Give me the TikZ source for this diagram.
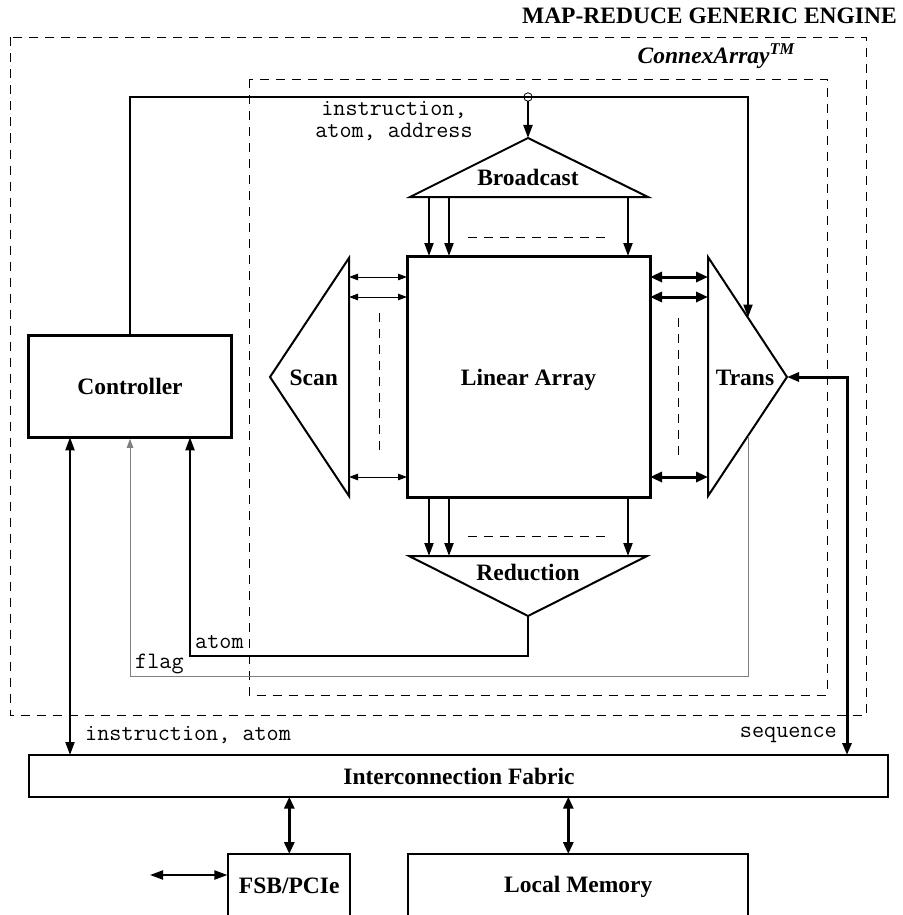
\documentclass[tikz,border=0pt]{standalone}
\usepackage{fontspec}
\setmainfont{Liberation Serif}
\usetikzlibrary{arrows.meta}
\begin{document}
\begin{tikzpicture}[x=1pt,y=-1pt,
  lbl/.style={font=\fontsize{23.5}{26}\selectfont\bfseries, inner sep=0pt},
  mono/.style={font=\fontsize{23.5}{26}\selectfont\ttfamily, inner sep=0pt},
  dsh/.style={line width=0.9pt, dash pattern=on 9pt off 7pt},
  box/.style={draw, inner sep=0pt, line width=1.8pt},
  tri/.style={line width=2pt, line join=miter},
  arr/.style={line width=2pt, -{Triangle[length=13pt,width=9pt]}},
  darr/.style={line width=2pt, {Triangle[length=13pt,width=9pt]}-{Triangle[length=13pt,width=9pt]}},
  thkarr/.style={line width=3pt, {Triangle[length=12pt,width=10pt]}-{Triangle[length=12pt,width=10pt]}},
  thinarr/.style={line width=0.9pt, {Triangle[length=9pt,width=6.5pt]}-{Triangle[length=9pt,width=6.5pt]}}
]
\path[use as bounding box, clip] (0,0) rectangle (902,915);

% dashed enclosures
\draw[dsh] (10,37.5) rectangle (866.7,715);
\draw[dsh] (249.3,79) rectangle (827,695);

% boxes
\node[box, line width=3pt, minimum width=203.4pt, minimum height=102.3pt] (ctrl) at (130,386.2) {};
\node[box, line width=3pt, minimum width=243pt, minimum height=241pt] (lin) at (528.5,376.5) {};
\node[box, minimum width=859.3pt, minimum height=41.7pt] (fab) at (458.7,775.8) {};
\node[box, minimum width=121.7pt, minimum height=76pt] (fsb) at (289.2,892) {};
\node[box, minimum width=340pt, minimum height=76pt] (mem) at (578.3,892) {};

% triangles
\coordinate (bA) at (528,138); \coordinate (bL) at (410,197); \coordinate (bR) at (648,197);
\coordinate (rA) at (528,616); \coordinate (rL) at (409,556); \coordinate (rR) at (647,556);
\coordinate (sA) at (270,377); \coordinate (sT) at (349,258); \coordinate (sB) at (349,496);
\coordinate (tA) at (787,377); \coordinate (tT) at (708,257); \coordinate (tB) at (708,496);
\draw[tri] (bL) -- (bA) -- (bR) -- cycle;
\draw[tri] (rL) -- (rA) -- (rR) -- cycle;
\draw[tri] (sT) -- (sA) -- (sB) -- cycle;
\draw[tri] (tT) -- (tA) -- (tB) -- cycle;

% broadcast -> linear array
\foreach \x in {429,449,628} \draw[arr] (\x,197) -- (\x,256);
\draw[dsh] (468,237) -- (610,237);
% linear array -> reduction
\foreach \x in {429,449,628} \draw[arr] (\x,497) -- (\x,556);
\draw[dsh] (468,536) -- (610,536);
% scan <-> linear array
\foreach \y in {277,297,477} \draw[thinarr] (349,\y) -- (407,\y);
\draw[dsh] (379,313) -- (379,453);
% linear array <-> trans
\foreach \y in {277,297,477} \draw[thkarr] (650,\y) -- (708,\y);
\draw[dsh] (678,318) -- (678,457);

% controller bus
\coordinate (busL) at (130,97);
\coordinate (busR) at (748,97);
\coordinate (tIn) at (748,317.5);
\coordinate (tap) at (528,97);
\draw[line width=2pt, -{Triangle[length=13pt,width=9pt]}] (ctrl.north) -- (busL) -- (busR) -- (tIn);
\draw[line width=0.8pt] (tap) circle (4.2pt);
\draw[arr] (528,101.2) -- (bA);

% flag (gray)
\coordinate (tOut) at (748,436);
\coordinate (f1) at (748,676);
\coordinate (f2) at (130,676);
\draw[line width=1pt, gray, -{Triangle[length=9pt,width=6.5pt]}] (tOut) -- (f1) -- (f2) -- (ctrl.south);
% atom from reduction
\coordinate (a1) at (528,656);
\coordinate (a2) at (190,656);
\draw[arr] (rA) -- (a1) -- (a2) -- (190,437.3);
% instruction, atom
\draw[darr] (70,437.3) -- (70,755);
% sequence
\coordinate (s1) at (847,377);
\draw[line width=3pt, {Triangle[length=12pt,width=9pt]}-{Triangle[length=12pt,width=9pt]}] (tA) -- (s1) -- (847,755);
% fabric <-> fsb, memory
\draw[thkarr] (289.3,796.7) -- (289.3,854);
\draw[thkarr] (568.3,796.7) -- (568.3,854);
\coordinate (ext) at (150,875);
\draw[darr] (ext) -- (fsb.west |- ext);

% texts
\node[lbl, anchor=base east] at (897,23.3) {MAP-REDUCE GENERIC ENGINE};
\node[lbl, anchor=base east] at (795,64) {\itshape ConnexArray\textsuperscript{TM}};
\node[mono, anchor=base] at (394,115.5) {instruction,};
\node[mono, anchor=base] at (394,137.5) {atom, address};
\node[lbl, anchor=base] at (528,185) {Broadcast};
\node[lbl, anchor=base] at (528,580) {Reduction};
\node[lbl, anchor=base] at (528.5,385) {Linear Array};
\node[lbl, anchor=base] at (313.7,385) {Scan};
\node[lbl, anchor=base] at (745,385) {Trans};
\node[lbl, anchor=base] at (130,394) {Controller};
\node[mono, anchor=base west] at (195,648) {atom};
\node[mono, anchor=base west] at (135,668) {flag};
\node[mono, anchor=base west] at (85,740) {instruction, atom};
\node[mono, anchor=base east] at (837,737) {sequence};
\node[lbl, anchor=base] at (459,784) {Interconnection Fabric};
\node[lbl, anchor=base] at (289.2,893) {FSB/PCIe};
\node[lbl, anchor=base] at (578.3,892) {Local Memory};
\end{tikzpicture}
\end{document}
